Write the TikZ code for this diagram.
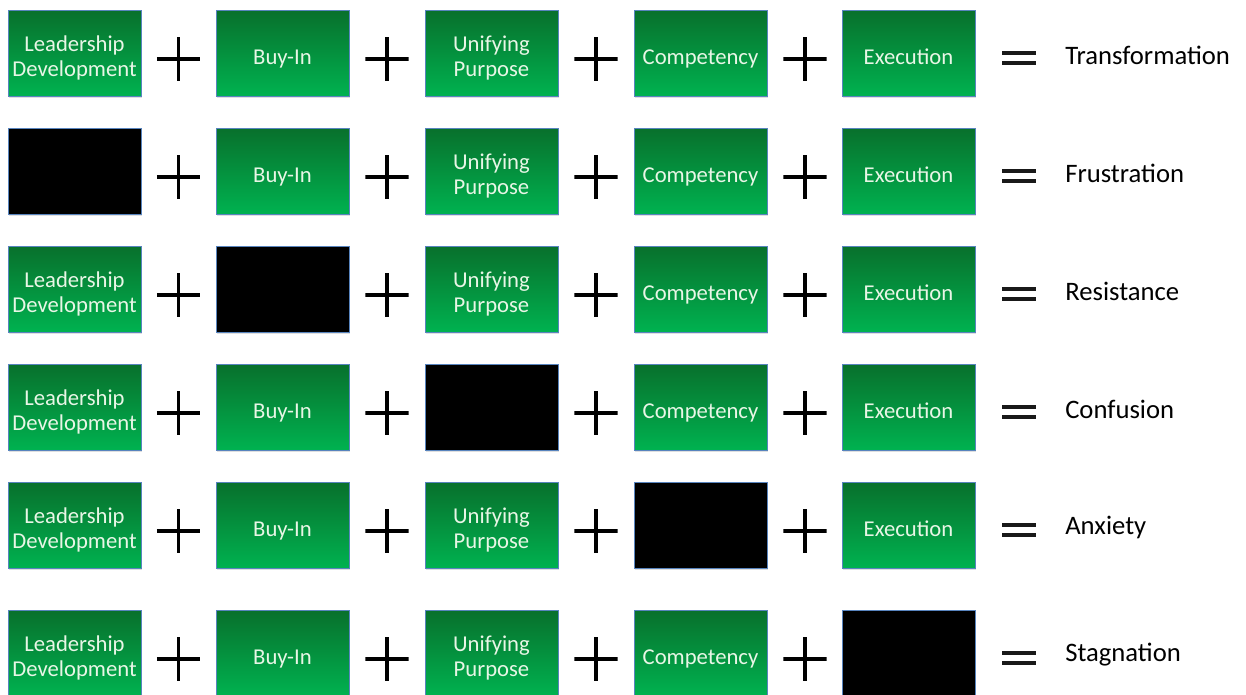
\documentclass[tikz,border=0pt]{standalone}
\usepackage{fontspec}
\setmainfont{Carlito}
\usetikzlibrary{shadows}
\definecolor{tiletop}{RGB}{8,112,44}
\definecolor{tilebottom}{RGB}{0,178,80}
\definecolor{tileedge}{RGB}{88,132,190}
\definecolor{tiletext}{RGB}{232,246,230}
\newcommand{\tilelabel}[1]{\raisebox{-4.5pt}[\height][\depth]{\begin{tabular}{@{}c@{}}#1\end{tabular}}}
\tikzset{
  tile/.style={
    rectangle, draw=tileedge, line width=0.6pt,
    minimum width=99.75pt, minimum height=64.5pt,
    inner sep=1pt,
    drop shadow={opacity=0.25, shadow xshift=1pt, shadow yshift=-1.2pt}
  },
  factor box/.style={
    tile, top color=tiletop, bottom color=tilebottom,
    text=tiletext, font=\fontsize{17}{19}\selectfont
  },
  missing box/.style={tile, fill=black},
  plus sign/.style={
    inner sep=0pt, minimum size=32.5pt,
    path picture={
      \draw[line width=2.4pt]
        (path picture bounding box.north) -- (path picture bounding box.south)
        (path picture bounding box.west) -- (path picture bounding box.east);
    }
  },
  equals sign/.style={
    inner sep=0pt, minimum width=25.5pt, minimum height=10pt,
    path picture={
      \draw[line width=3pt, black!90]
        ([yshift=3.4pt]path picture bounding box.west) -- ([yshift=3.4pt]path picture bounding box.east)
        ([yshift=-3.4pt]path picture bounding box.west) -- ([yshift=-3.4pt]path picture bounding box.east);
    }
  },
  outcome/.style={anchor=west, inner sep=0pt, font=\fontsize{20}{24}\selectfont}
}

\begin{document}
\begin{tikzpicture}[x=0.75pt, y=-0.75pt]
  \useasboundingbox (0,0) rectangle (1246,694);
  % one row per outcome; \gap is the missing factor (0 = none)
  \foreach \row/\y/\gap/\result in {1/53/0/Transformation, 2/171/1/Frustration,
      3/289/2/Resistance, 4/407/3/Confusion, 5/525/4/Anxiety, 6/653/5/Stagnation} {
    \foreach \c/\x/\txt in {1/74.5/{Leadership\\Development}, 2/282.5/{Buy-In},
        3/491.5/{Unifying\\Purpose}, 4/700.5/{Competency}, 5/908.5/{Execution}} {
      \ifnum\c=\gap
        \node[missing box] (b\row\c) at (\x,\y) {};
      \else
        \node[factor box] (b\row\c) at (\x,\y) {\tilelabel{\txt}};
      \fi
    }
    \foreach \c/\x in {1/178.5, 2/387, 3/596, 4/805}
      \node[plus sign] (p\row\c) at (\x,\y+6) {};
    \node[equals sign] (eq\row) at (1019,\y+5) {};
    \node[outcome] (res\row) at (1065,\y+2) {\result};
  }
\end{tikzpicture}
\end{document}
